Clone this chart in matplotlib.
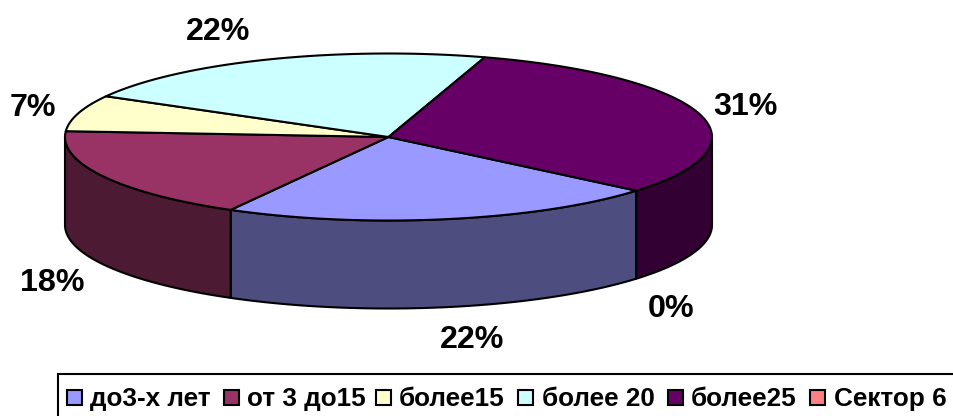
import numpy as np
import matplotlib
matplotlib.use("Agg")
import matplotlib.pyplot as plt
from matplotlib.patches import Polygon, Rectangle

plt.rcParams["font.family"] = ["Liberation Sans", "DejaVu Sans"]

# slices, clockwise from the right front edge
categories = ["до3-х лет", "от 3 до15", "более15", "более 20", "более25", "Сектор 6"]
values = [22, 18, 7, 21.7, 31.3, 0]
top_colors = ["#9999ff", "#993366", "#ffffcc", "#ccffff", "#660066", "#ff8080"]
side_colors = ["#4d4d80", "#4d1a33", "#808066", "#668080", "#330033", "#804040"]

# label text and where it sits, in pixels
pct_labels = ["22%", "18%", "7%", "22%", "31%", "0%"]
label_x = [472, 52, 33, 218, 745, 671]
label_y = [340, 283, 108, 32, 107, 309]

# legend positions, in pixels
swatch_x = [67, 224, 376, 518, 668, 810]
name_x = [90, 247, 399, 542, 691, 834]

cx, cy = 388.5, 137
rx, ry = 323.5, 83.5
depth = 88
start = -40


def arc(t0, t1, dy=0):
    t = np.radians(np.linspace(t0, t1, 120))
    return np.column_stack([cx + rx * np.cos(t), cy + dy - ry * np.sin(t)])


fig = plt.figure(figsize=(9.54, 4.16), dpi=100)
ax = fig.add_axes([0, 0, 1, 1])
ax.set_xlim(0, 954)
ax.set_ylim(416, 0)
ax.axis("off")

edges = start - np.cumsum([0] + values) * 3.6

# front wall, only the part of the rim below the centre shows
for i, v in enumerate(values):
    if v == 0:
        continue
    a0, a1 = edges[i], edges[i + 1]
    for lo, hi in [(-180, 0), (-540, -360)]:
        s0, s1 = min(a0, hi), max(a1, lo)
        if s0 > s1:
            top = arc(s0, s1)
            bot = arc(s1, s0, depth)
            ax.add_patch(Polygon(np.vstack([top, bot]), closed=True, fc=side_colors[i],
                                 ec="black", lw=1.5, joinstyle="round"))

# top face
for i, v in enumerate(values):
    if v == 0:
        continue
    pts = np.vstack([[cx, cy], arc(edges[i], edges[i + 1])])
    ax.add_patch(Polygon(pts, closed=True, fc=top_colors[i], ec="black", lw=1.5,
                         joinstyle="round"))

for txt, x, y in zip(pct_labels, label_x, label_y):
    ax.text(x, y, txt, fontsize=23.2, fontweight="bold", ha="center", va="center", color="black")

# legend box runs off the bottom and right of the picture
ax.add_patch(Rectangle((58, 374), 920, 60, fc="white", ec="black", lw=1.5))
for name, col, sx, nx in zip(categories, top_colors, swatch_x, name_x):
    ax.add_patch(Rectangle((sx, 390), 15, 15, fc=col, ec="black", lw=1.5))
    ax.text(nx, 399, name, fontsize=18.8, fontweight="bold", ha="left", va="center", color="black")

fig.savefig("out.png", dpi=100)
